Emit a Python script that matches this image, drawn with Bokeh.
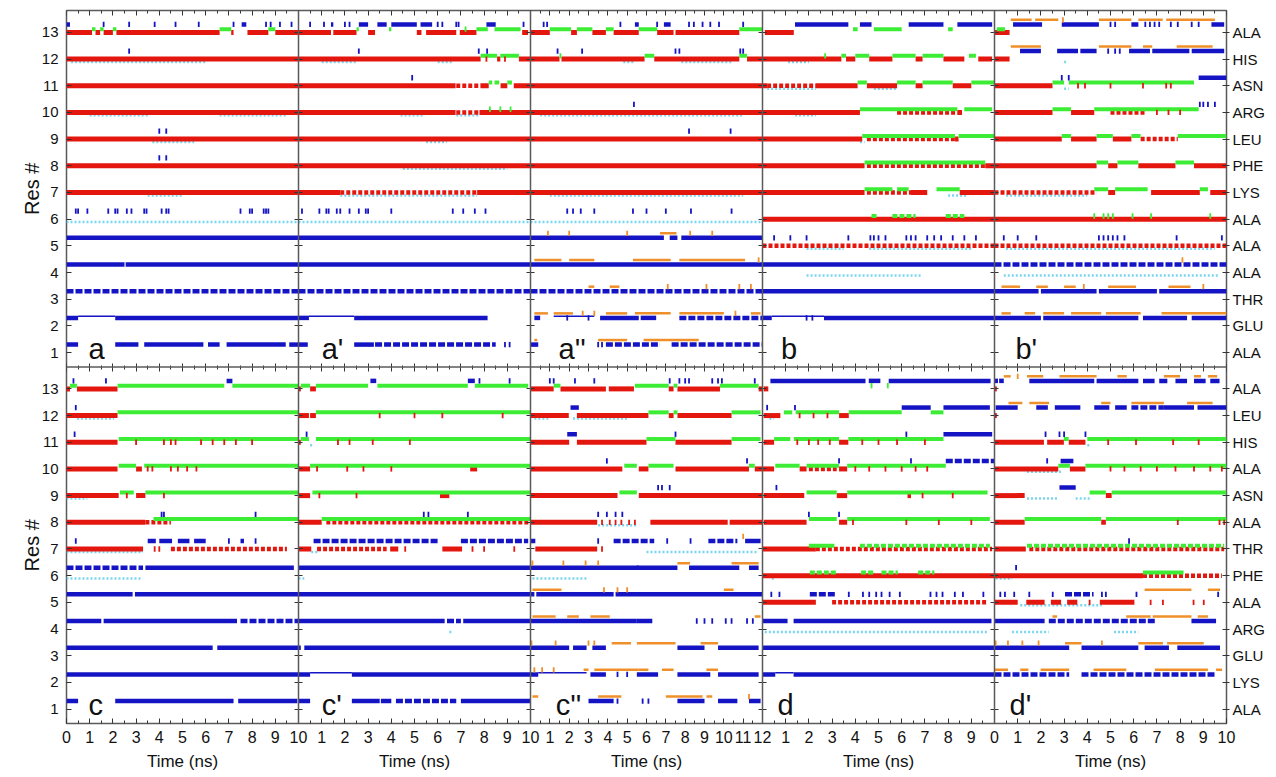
import math
from bokeh.plotting import figure
from bokeh.models import Range1d, LinearAxis, FixedTicker, ColumnDataSource, Label, Span
from bokeh.embed import file_html
from bokeh.resources import INLINE

FONT = "Liberation Sans"

# ---------------- labels / categories ----------------
RES_TICKS = list(range(1, 14))
TOP_NAMES = ["ALA", "GLU", "THR", "ALA", "ALA", "ALA", "LYS", "PHE", "LEU", "ARG", "ASN", "HIS", "ALA"]
BOT_NAMES = ["ALA", "LYS", "GLU", "ARG", "ALA", "PHE", "THR", "ALA", "ASN", "ALA", "HIS", "LEU", "ALA"]
TOP_PANELS = ["a", "a'", "a''", "b", "b'"]
BOT_PANELS = ["c", "c'", "c''", "d", "d'"]
PANEL_NS = [10, 10, 12, 10, 10]
TIME_LABEL = "Time (ns)"
RES_LABEL = "Res #"

# ---------------- data: (residue, start ns, end ns) / ticks (residue, ns) ----------------
# panel a
A_RED = [(13,0,1.1),(13,1.25,1.45),(13,1.6,2.0),(13,2.15,6.6),(13,7.1,7.2),(13,7.8,8.7),(13,9.0,10),
         (12,0,10),(11,0,10),(10,0,10),(9,0,10),(8,0,10),(7,0,10)]
A_GREEN = [(13,1.1,1.25),(13,1.45,1.6),(13,2.0,2.15),(13,6.6,7.1),(13,8.7,9.0)]
A_BLUE = [(13,0.0,0.15),(13,7.55,7.75),(5,0,10),(4,0,2.5),(4,2.55,10),(2,0,0.5),(2,2.1,10),
          (1,0,0.5),(1,2.1,3.1),(1,3.35,5.9),(1,6.1,6.6),(1,6.9,9.45),(1,9.6,10)]
A_BLUE_DASH = [(3,0,10)]
A_THIN = [(2,0.5,2.1)]
A_BLUE_TK = [(13,1.6),(13,2.7),(13,3.8),(13,4.7),(13,5.7),(13,7.2),(13,8.6),(13,8.8),(13,9.2),(13,9.7),
             (12,2.7),(9,4.0),(9,4.3),(8,4.0),(8,4.3),(6,0.4),(6,0.5),(6,0.9),(6,1.8),(6,2.1),(6,2.2),
             (6,2.6),(6,2.8),(6,3.35),(6,3.45),(6,4.1),(6,4.3),(6,4.4),(6,7.5),(6,7.9),(6,8.0),(6,8.5),
             (6,8.6),(6,8.7)]
A_CYAN = [(12,0.2,6.0),(10,1.0,3.5),(10,6.6,9.5),(9,3.7,5.5),(7,3.5,5.0),(6,0,10)]

# panel a'
AP_RED = [(13,0,1.4),(13,1.5,2.5),(13,3.0,3.3),(13,5.1,5.3),(13,5.5,6.8),(13,6.95,7.67),(13,9.64,9.9),
          (12,0,7.85),(12,8.56,8.7),(12,9.5,10),
          (11,0,6.77),(11,7.85,8.2),(11,8.71,9.0),(11,9.28,10),
          (10,0,6.77),(10,7.8,10),(9,0,10),(8,0,10),(7,0,1.8),(7,7.7,10)]
AP_RED_DOT = [(11,6.8,7.85),(10,6.8,7.8),(7,1.8,7.7)]
AP_RED_TK = [(12,8.1),(12,8.9)]
AP_GREEN = [(13,2.5,2.6),(13,3.9,4.0),(13,7.67,8.16),(13,8.45,9.57),(12,7.85,8.56),(12,8.7,9.5),
            (11,8.2,8.35),(11,8.45,8.65),(11,9.0,9.2)]
AP_GREEN_TK = [(13,7.2),(10,8.25),(10,8.7),(10,9.14)]
AP_BLUE = [(13,1.4,1.5),(13,2.6,3.0),(13,3.4,3.8),(13,4.0,5.1),(13,5.26,5.76),(13,8.1,8.5),
           (5,0,10),(4,0,10),(2,0,0.45),(2,2.4,8.15),(1,0,0.4),(1,2.4,3.25)]
AP_BLUE_DASH = [(3,0,10),(1,3.3,8.5)]
AP_THIN = [(2,0.45,2.4)]
AP_BLUE_TK = [(13,0.5),(13,1.1),(13,2.0),(13,2.2),(13,6.0),(13,6.2),(13,6.8),(13,6.9),(13,9.7),
              (12,2.6),(12,7.77),(12,8.13),(11,4.9),(6,0.15),(6,0.9),(6,1.2),(6,1.3),(6,1.65),(6,1.8),
              (6,2.2),(6,2.6),(6,2.9),(6,3.0),(6,4.0),(6,6.65),(6,7.1),(6,7.6),(6,8.06),(1,8.9),(1,9.1)]
AP_CYAN = [(12,1.0,2.5),(12,6.0,6.6),(10,4.4,5.4),(10,6.8,7.8),(9,5.5,6.4),(8,4.5,9.0),(7,1.8,7.7),(6,0,10)]

# panel a''
A2_RED = [(13,0,1.0),(13,2.1,2.4),(13,3.2,3.9),(13,4.3,5.6),(13,6.55,7.4),(13,7.5,10.8),
          (12,0,1.5),(12,1.6,5.9),(12,6.4,10.8),(12,11.2,12),
          (11,0,12),(10,0,12),(9,0,12),(8,0,12),(7,0,12)]
A2_GREEN = [(13,1.0,2.1),(13,2.4,3.2),(13,3.9,4.3),(13,5.6,6.55),(13,10.8,12),(12,5.9,6.4),(12,10.8,11.2)]
A2_GREEN_TK = [(12,1.55)]
A2_BLUE = [(13,5.4,5.6),(13,6.9,7.25),(5,0,6.9),(5,7.2,7.6),(5,7.8,12),(4,0,12),
           (2,0.2,0.5),(2,3.6,5.6),(2,5.7,6.5),(1,0,0.4)]
A2_BLUE_DASH = [(3,0,12),(2,7.7,12),(1,3.9,6.7),(1,7.3,12)]
A2_THIN = [(2,1.2,3.3)]
A2_BLUE_TK = [(13,0.68),(13,0.86),(13,4.65),(13,6.55),(13,8.2),(13,8.45),(13,8.9),(13,9.3),(13,9.75),
              (13,11.0),(12,1.4),(12,2.67),(12,7.5),(12,7.7),(12,10.85),(12,11.0),(10,5.35),(9,8.2),
              (9,10.35),(6,1.9),(6,2.2),(6,2.6),(6,3.3),(6,5.3),(6,6.0),(6,7.0),(6,8.3),(6,10.4),
              (2,1.9),(2,3.0),(1,3.5),(1,3.7)]
A2_ORANGE = [(5,6.7,7.55),(4,0.2,1.6),(4,2.0,3.3),(4,5.3,7.25),(4,7.7,11.1),(3,3.0,3.3),(3,4.1,4.6),
             (2,0.2,0.9),(2,1.2,2.2),(2,3.9,5.0),(2,5.4,7.25),(2,7.7,10.0),(2,11.4,11.9),
             (1,0.2,0.35),(1,3.5,5.0),(1,5.85,8.7)]
A2_ORANGE_TK = [(5,0.9),(5,2.0),(5,5.0),(5,8.26),(5,9.4),(4,11.8),(3,7.1),(3,9.1),(3,10.8),(3,11.4),
                (2,2.7),(2,3.3),(2,10.6)]
A2_CYAN = [(12,4.8,5.4),(12,7.8,10.4),(10,0.5,11),(7,1,11),(6,0,12)]

# panel b
B_RED = [(13,0.1,1.35),(12,0,3.4),(12,3.6,4.0),(12,4.6,5.6),(12,6.6,6.9),(12,7.8,8.7),(12,9.3,9.9),
         (11,0,0.2),(11,2.3,4.1),(11,4.5,5.8),(11,6.6,6.9),(11,8.2,9.0),
         (10,0,4.2),(10,8.4,8.6),(9,0,4.3),(9,8.3,8.45),(8,0,4.4),(8,9.6,10),
         (7,0,4.4),(7,6.4,7.1),(7,8.5,10),(6,0,10)]
B_RED_DOT = [(11,0.2,2.3),(10,5.8,8.4),(9,4.5,8.3),(8,4.5,9.6),(7,4.5,6.4),(5,0,10)]
B_GREEN = [(13,3.9,4.1),(13,4.8,6.0),(13,8.0,8.2),(12,3.4,3.6),(12,4.0,4.6),(12,5.6,6.6),(12,6.9,7.8),
           (12,8.9,9.2),(11,4.1,4.5),(11,5.8,6.6),(11,6.9,8.2),(11,9.0,10),(10,4.2,8.4),(10,8.7,9.9),
           (9,4.3,8.3),(9,8.45,10),(8,4.4,9.6),(7,4.4,5.6),(7,5.8,6.3),(7,7.5,8.5)]
B_GREEN_DOT = [(6,4.7,5.0),(6,5.6,6.6),(6,7.9,8.7)]
B_GREEN_TK = [(12,2.7)]
B_BLUE = [(13,1.4,3.7),(13,4.2,4.7),(13,6.3,7.8),(13,8.4,9.9),(4,0,10),(3,0,10),(2,0,0.4),(2,2.65,10)]
B_THIN = [(2,0.4,2.65)]
B_BLUE_TK = [(5,0.5),(5,1.2),(5,1.9),(5,3.7),(5,4.65),(5,4.8),(5,5.0),(5,5.3),(5,6.2),(5,6.4),(5,6.6),
             (5,7.1),(5,7.4),(5,7.7),(5,8.2),(5,8.7),(5,9.2),(2,1.9),(2,2.15)]
B_CYAN = [(12,1.1,2.0),(11,0.2,2.3),(11,4.8,5.8),(10,1.4,2.3),(9,4.2,4.4),(5,1.9,3.5),(5,4.6,9.0),
          (4,1.9,6.9),(7,8.0,8.8)]

# panel b'
BP_RED = [(13,0,0.65),(12,0,0.65),(11,0,2.5),(10,0,2.5),(10,3.3,4.3),(9,0,2.9),(9,3.3,4.4),(9,5.1,5.9),
          (8,0,4.4),(8,4.9,5.3),(8,6.2,7.8),(8,8.6,10),(7,4.9,5.2),(7,6.75,8.85),(7,9.3,10),(6,0,10)]
BP_RED_DOT = [(10,5.0,6.5),(9,6.3,7.9),(7,0,4.4),(5,0,10)]
BP_RED_TK = [(11,3.6),(11,3.9),(11,5.0),(11,6.4),(11,7.4),(11,7.6),(10,7.0),(10,7.5),(10,8.0)]
BP_GREEN = [(13,0.1,0.45),(11,2.5,3.0),(11,3.2,8.6),(10,2.5,3.3),(10,4.3,8.8),(9,2.9,3.3),(9,4.4,5.1),
            (9,5.9,6.3),(9,7.9,10),(8,4.4,4.9),(8,5.3,6.2),(8,7.8,8.6),(7,4.3,4.9),(7,5.2,6.6),(7,8.85,9.2)]
BP_GREEN_TK = [(6,4.3),(6,4.7),(6,4.9),(6,5.1),(6,5.95),(6,6.75),(6,9.3)]
BP_BLUE = [(13,0.8,2.05),(13,2.9,4.5),(13,5.9,6.2),(13,9.35,9.9),(12,1.1,2.0),(12,2.7,3.6),(12,3.7,4.4),
           (12,5.8,6.7),(12,6.8,8.4),(12,8.5,9.9),(11,8.8,10),(3,0,1.9),(3,2.0,4.4),(3,4.5,7.0),
           (3,7.1,10),(2,0,2.0),(2,2.1,6.2),(2,6.4,8.3),(2,8.5,10)]
BP_BLUE_DASH = [(4,0,10)]
BP_BLUE_TK = [(13,5.0),(13,5.2),(13,6.5),(13,6.7),(13,6.9),(13,7.1),(13,7.6),(13,7.9),(13,8.5),(13,8.8),
              (12,4.9),(12,5.2),(12,5.4),(11,2.9),(11,3.2),(10,8.85),(10,9.0),(10,9.2),(10,9.5),(5,0.4),
              (5,1.0),(5,1.8),(5,4.5),(5,4.7),(5,4.9),(5,5.1),(5,5.3),(5,5.6),(5,7.85),(5,9.8)]
BP_ORANGE = [(13,0.7,1.6),(13,1.75,2.75),(13,4.5,5.9),(13,6.2,7.25),(13,7.4,9.5),(12,0.7,2.0),
             (12,4.5,5.9),(12,6.4,6.8),(12,7.85,9.4),(3,0.3,1.1),(3,1.8,2.3),(3,3.0,3.5),(3,4.9,6.1),
             (3,7.5,8.45),(2,0.3,0.7),(2,1.3,1.75),(2,2.1,3.0),(2,3.3,4.6),(2,4.8,6.3),(2,7.2,10)]
BP_ORANGE_TK = [(13,2.95),(4,8.1),(3,3.85),(3,9.0)]
BP_CYAN = [(12,3.0,3.1),(11,3.0,3.2),(7,0.5,4.0),(5,0.5,9.5),(4,0.4,9.7)]

# panel c
C_RED = [(13,0,0.15),(13,0.45,2.2),(12,0,2.2),(11,0,2.2),(10,0,2.2),(10,3.0,3.25),(9,0,2.25),(9,3.0,3.4),
         (8,0,3.4),(7,0,3.3)]
C_RED_DOT = [(8,3.4,4.5),(7,4.5,9.5)]
C_RED_TK = [(11,3.0),(11,4.2),(11,4.5),(11,4.7),(11,5.8),(11,6.3),(11,6.8),(11,7.3),(11,8.0),(10,3.5),
            (10,3.7),(10,4.5),(10,4.8),(10,5.2),(10,5.6),(9,2.6),(9,4.2),(7,3.8),(7,4.0)]
C_GREEN = [(13,0.15,0.45),(13,2.2,6.8),(13,7.15,10),(12,2.2,10),(11,2.25,10),(10,2.25,3.0),(10,3.35,10),
           (9,2.3,2.9),(9,3.4,10),(8,3.75,10)]
C_BLUE = [(13,6.9,7.15),(7,3.5,3.85),(7,4.0,4.55),(7,4.8,5.3),(7,5.5,6.0),(7,7.5,7.65),(6,3.4,9.8),
          (5,0,2.85),(5,2.95,10),(4,0,1.5),(4,1.6,7.35),(3,0,6.3),(3,6.5,10),(2,0,10),
          (1,0,0.5),(1,2.1,7.2),(1,7.4,9.95)]
C_BLUE_DASH = [(4,7.5,10),(6,0,3.3)]
C_BLUE_TK = [(13,0.3),(13,1.7),(12,0.4),(11,0.35),(8,4.1),(8,4.2),(8,8.15),(7,0.4),(7,7.0),(7,8.15)]
C_CYAN = [(12,0.45,2.05),(9,0,0.9),(7,0,3.3),(6,0,3.2)]

# panel c'
CP_RED = [(13,0,0.1),(13,0.5,0.75),(12,0,0.45),(12,0.5,0.75),(11,0,0.1),(10,0,0.5),(10,7.4,7.7),
          (9,0,0.5),(9,6.1,6.5),(8,0,1.0),(7,0,0.55),(7,3.95,4.3),(7,6.2,7.05)]
CP_RED_DOT = [(8,1.2,10),(7,0.8,3.8)]
CP_RED_TK = [(12,3.5),(12,5.0),(12,6.2),(12,8.8),(11,1.7),(11,2.2),(11,3.2),(11,4.8),(10,0.8),(10,2.1),
             (10,2.8),(10,4.0),(9,0.9),(9,2.5),(7,4.6),(7,7.5),(7,8.0),(7,9.3)]
CP_GREEN = [(13,0.1,0.5),(13,0.75,3.0),(13,3.4,7.3),(13,7.6,9.9),(12,0.75,10),(11,0.1,0.45),(11,0.75,10),
            (10,0.5,10),(9,0.6,10),(8,1.0,10)]
CP_BLUE = [(13,3.1,3.35),(13,7.3,7.6),(6,0,10),(5,0,10),(4,0,6.3),(4,7.1,10),(3,0,0.1),(3,0.25,10),
           (2,0,0.5),(2,2.3,10),(1,0,0.5),(1,2.3,3.5),(1,3.55,4.0),(1,7.0,10)]
CP_BLUE_DASH = [(7,0.65,6.0),(7,7.0,9.9),(4,6.4,7.0),(1,4.2,6.8)]
CP_THIN = [(2,0.5,2.3)]
CP_BLUE_TK = [(13,7.8),(13,9.1),(11,0.35),(8,5.4),(8,5.6),(8,7.3)]
CP_CYAN = [(11,0.5,0.6),(7,0.55,0.9),(6,0,0.25),(4,6.5,6.6)]

# panel c''
C2_RED = [(13,0,1.2),(13,1.55,3.9),(13,4.05,5.35),(13,7.15,7.4),(13,7.6,9.8),(13,11.8,12),
          (12,0,1.98),(12,2.4,6.1),(12,7.15,7.4),(12,7.6,10.4),
          (11,0,2.0),(11,2.4,6.0),(11,7.5,10.4),
          (10,0,4.75),(10,5.6,6.1),(10,7.5,11.3),(10,11.6,12),
          (9,0,4.5),(9,5.6,12),(8,0,3.45),(8,6.2,10.2),(8,10.3,12),(7,0.25,3.45)]
C2_RED_TK = [(8,3.7),(8,4.1),(8,4.4),(8,4.7),(8,5.1),(8,5.4),(7,3.7)]
C2_GREEN = [(13,1.2,1.55),(13,5.4,7.15),(13,7.4,7.6),(13,9.8,11.8),(12,6.1,7.15),(12,7.4,7.6),(12,10.4,11.9),
            (11,6.0,7.5),(11,10.4,11.9),(10,4.85,5.5),(10,6.1,7.4),(10,11.3,11.6),(9,4.6,5.5)]
C2_BLUE = [(12,2.07,2.5),(11,1.9,2.4),(7,0,0.25),(7,11.1,11.9),(6,0,5.6),(6,5.5,7.6),(6,8.2,10.8),
           (6,11.3,11.8),(5,0,0.2),(5,0.3,4.3),(5,4.4,12),(4,0,5.5),(4,5.5,6.3),(3,0,2.0),(3,2.2,2.9),
           (3,3.2,3.9),(3,7.6,9.0),(3,9.7,11.8),(2,0,0.4),(2,3.1,3.9),(2,5.5,6.6),(2,7.6,9.3),(2,9.7,11.8),
           (1,3.0,4.3),(1,7.6,9.0),(1,9.7,10.7),(1,11.3,11.9)]
C2_BLUE_DASH = [(7,4.3,6.4),(7,9.2,10.7)]
C2_THIN = [(2,0.4,2.9)]
C2_BLUE_TK = [(13,1.0),(13,1.2),(13,2.3),(13,3.3),(13,7.2),(13,7.7),(13,8.0),(13,8.2),(13,9.4),(13,9.7),
              (13,9.9),(13,11.6),(11,7.5),(10,3.95),(10,11.2),(9,6.6),(9,6.8),(9,7.2),(8,3.5),(8,3.95),
              (8,4.4),(8,4.75),(7,3.5),(7,7.07),(7,8.28),(4,8.6),(4,9.0),(4,9.4),(4,10.1),(4,10.4),
              (4,11.2),(4,11.5),(2,4.5),(2,5.0),(1,4.5),(1,5.8),(1,6.1)]
C2_ORANGE = [(6,7.6,8.25),(6,10.4,11.8),(5,0.1,1.6),(5,10.0,10.5),(4,0.1,1.3),(4,1.9,2.5),(4,3.1,4.1),
             (4,11.6,11.9),(3,4.2,5.2),(3,5.5,7.5),(3,8.8,9.7),(2,2.75,3.0),(2,3.3,5.6),(2,5.6,6.1),
             (2,6.8,7.4),(2,9.1,9.7),(1,0.1,0.4),(1,3.5,4.7),(1,7.0,8.9),(1,9.1,9.4)]
C2_ORANGE_TK = [(7,11.0),(6,0.1),(6,1.7),(6,2.85),(6,3.5),(5,3.8),(5,4.5),(5,5.0),(3,0.05),(3,1.3),
                (3,3.0),(3,3.3),(2,0.2),(2,0.6),(2,1.2),(1,11.3)]
C2_CYAN = [(12,0.2,1.0),(12,2.2,5.0),(8,3.5,5.5),(7,6.0,11.8),(6,0.1,2.9)]

# panel d
D_RED = [(13,0.05,0.25),(12,0.05,0.77),(12,3.3,3.72),(11,0.05,0.5),(11,3.3,3.7),(10,0,0.5),(10,1.6,1.9),
         (10,3.3,3.65),(9,0.05,1.8),(9,3.2,3.65),(9,6.25,6.4),(8,0.05,1.9),(8,3.3,3.65),(7,0,2.3),(6,0,10),
         (5,0,2.3)]
D_RED_DOT = [(10,2.0,3.2),(7,2.3,9.9),(5,3.0,9.7)]
D_RED_TK = [(12,1.6),(12,2.2),(12,2.8),(11,1.5),(11,2.0),(11,2.4),(11,2.9),(11,4.3),(11,5.0),(11,5.8),
            (11,7.0),(10,4.0),(10,4.6),(10,5.3),(10,6.0),(10,6.6),(10,7.1),(9,6.9),(9,8.2),(8,3.9),
            (8,6.2),(8,7.6),(8,9.0)]
D_GREEN = [(12,0.92,1.28),(12,1.43,3.3),(12,3.72,6.0),(12,7.25,7.8),(11,0.5,1.2),(11,1.35,3.3),(11,3.7,7.8),
           (10,0.55,1.6),(10,1.9,3.3),(10,3.65,7.9),(9,1.9,3.2),(9,3.65,9.7),(8,2.0,3.2),(8,3.65,9.8),
           (7,2.0,3.1)]
D_GREEN_DOT = [(7,4.2,9.8),(6,2.04,3.19),(6,4.25,4.77),(6,5.13,5.83),(6,6.71,7.41)]
D_GREEN_TK = [(13,4.7),(13,5.4)]
D_BLUE = [(13,0.34,4.44),(13,4.58,5.08),(13,5.44,9.83),(12,6.0,7.25),(12,7.8,9.8),(11,7.8,9.9),
          (4,0,1.08),(4,1.34,9.87),(3,0,10),(2,0,0.55),(2,1.34,10)]
D_BLUE_DASH = [(10,7.9,10),(5,2.04,3.19)]
D_THIN = [(2,0.55,1.34)]
D_BLUE_TK = [(12,0.2),(12,1.4),(11,6.2),(10,3.3),(10,6.4),(9,0.6),(8,2.0),(8,3.3),(5,0.38),(5,0.73),
             (5,3.72),(5,4.33),(5,4.6),(5,4.9),(5,5.13),(5,5.48),(5,5.92),(5,7.24),(5,7.5),(5,7.76),
             (5,8.29),(5,8.64),(5,9.52)]
D_CYAN = [(12,0.3,0.5),(6,0.4,0.5),(4,0.1,9.7)]

# panel d'
DP_RED = [(13,0,0.1),(12,0,0.1),(11,0,2.13),(11,2.27,2.99),(11,3.2,3.92),(10,0,2.75),(10,3.25,3.92),
          (9,0,1.3),(9,4.8,5.05),(8,0,1.3),(8,4.6,4.8),(7,0,1.35),(6,0,6.4),
          (5,0,1.0),(5,1.37,2.16),(5,2.43,2.87),(5,3.13,3.57),(5,4.54,6.03)]
DP_RED_DOT = [(7,1.5,9.9),(6,6.4,9.8)]
DP_RED_TK = [(11,4.9),(11,6.1),(11,7.7),(11,8.8),(10,5.0),(10,5.6),(10,6.3),(10,7.0),(10,7.8),(10,8.6),
             (10,9.3),(10,9.8),(8,7.9),(8,9.7),(8,9.9),(5,4.1),(5,6.73),(5,7.26),(5,8.58),(5,9.02)]
DP_GREEN = [(11,2.99,3.2),(11,4.0,10),(10,2.75,3.25),(10,3.92,10),(9,4.1,4.8),(9,5.05,10),(8,1.3,4.6),
            (8,4.8,10),(6,6.4,8.15)]
DP_GREEN_DOT = [(7,1.4,9.9)]
DP_BLUE = [(13,0,0.15),(13,0.2,0.4),(13,1.5,4.3),(13,4.4,6.2),(13,6.4,6.9),(13,7.1,7.45),(13,7.8,8.3),
           (13,8.6,9.1),(13,9.3,9.7),(12,0.05,1.0),(12,1.8,2.3),(12,2.6,3.7),(12,4.3,4.95),(12,5.2,5.7),
           (12,7.3,8.6),(12,8.75,10),(10,2.85,3.4),(9,2.8,3.5),(4,0,2.16),(4,8.49,9.55),
           (3,0,3.22),(3,3.75,6.2),(3,6.47,7.52),(3,7.88,9.72)]
DP_BLUE_DASH = [(12,5.9,7.3),(5,3.04,4.27),(4,2.34,6.91),(2,0,3.22),(2,3.75,9.55)]
DP_BLUE_TK = [(11,2.2),(11,2.8),(11,3.0),(11,3.92),(10,2.27),(7,5.8),(6,0.93),(5,0.25),(5,0.45),(5,0.85),
              (5,1.5),(5,2.51),(5,4.63),(5,4.8),(5,6.12),(5,9.64)]
DP_ORANGE = [(13,0.4,0.7),(13,1.4,2.1),(13,2.8,4.4),(13,5.3,5.7),(13,7.3,8.0),(13,8.6,8.9),(13,9.2,9.6),
             (12,0.6,1.2),(12,1.5,2.35),(12,4.6,5.0),(12,5.9,7.3),(12,8.3,9.4),(5,6.47,8.49),(5,9.2,9.72),
             (4,2.5,2.7),(4,5.68,6.73),(4,6.82,8.49),(4,8.76,9.2),(3,3.04,3.75),(3,6.2,7.26),(3,7.44,9.02),
             (2,0,0.58),(2,1.11,1.46),(2,1.99,3.22),(2,4.27,5.68),(2,6.91,9.2),(2,9.55,9.81)]
DP_ORANGE_TK = [(13,1.0),(3,0.05),(3,0.58),(3,1.2),(3,1.9),(3,4.63)]
DP_CYAN = [(11,4.0,4.1),(10,1.4,2.9),(9,1.4,2.7),(9,3.5,4.1),(6,0.05,0.76),(5,1.11,4.63),(4,0.76,2.34),
           (4,5.15,6.2)]


def panel_data(red=(), red_dot=(), green=(), green_dot=(), blue=(), blue_dash=(), thin=(), cyan=(),
               orange=(), blue_tk=(), red_tk=(), green_tk=(), orange_tk=()):
    return dict(red=red, red_dot=red_dot, green=green, green_dot=green_dot, blue=blue, blue_dash=blue_dash,
                thin=thin, cyan=cyan, orange=orange, blue_tk=blue_tk, red_tk=red_tk, green_tk=green_tk,
                orange_tk=orange_tk)


PANELS = {
    ("top", 0): panel_data(red=A_RED, green=A_GREEN, blue=A_BLUE, blue_dash=A_BLUE_DASH, thin=A_THIN,
                           cyan=A_CYAN, blue_tk=A_BLUE_TK),
    ("top", 1): panel_data(red=AP_RED, red_dot=AP_RED_DOT, green=AP_GREEN, blue=AP_BLUE, blue_dash=AP_BLUE_DASH,
                           thin=AP_THIN, cyan=AP_CYAN, blue_tk=AP_BLUE_TK, red_tk=AP_RED_TK, green_tk=AP_GREEN_TK),
    ("top", 2): panel_data(red=A2_RED, green=A2_GREEN, blue=A2_BLUE, blue_dash=A2_BLUE_DASH, thin=A2_THIN,
                           cyan=A2_CYAN, orange=A2_ORANGE, blue_tk=A2_BLUE_TK, green_tk=A2_GREEN_TK,
                           orange_tk=A2_ORANGE_TK),
    ("top", 3): panel_data(red=B_RED, red_dot=B_RED_DOT, green=B_GREEN, green_dot=B_GREEN_DOT, blue=B_BLUE,
                           thin=B_THIN, cyan=B_CYAN, blue_tk=B_BLUE_TK, green_tk=B_GREEN_TK),
    ("top", 4): panel_data(red=BP_RED, red_dot=BP_RED_DOT, green=BP_GREEN, blue=BP_BLUE, blue_dash=BP_BLUE_DASH,
                           cyan=BP_CYAN, orange=BP_ORANGE, blue_tk=BP_BLUE_TK, red_tk=BP_RED_TK,
                           green_tk=BP_GREEN_TK, orange_tk=BP_ORANGE_TK),
    ("bot", 0): panel_data(red=C_RED, red_dot=C_RED_DOT, green=C_GREEN, blue=C_BLUE, blue_dash=C_BLUE_DASH,
                           cyan=C_CYAN, blue_tk=C_BLUE_TK, red_tk=C_RED_TK),
    ("bot", 1): panel_data(red=CP_RED, red_dot=CP_RED_DOT, green=CP_GREEN, blue=CP_BLUE, blue_dash=CP_BLUE_DASH,
                           thin=CP_THIN, cyan=CP_CYAN, blue_tk=CP_BLUE_TK, red_tk=CP_RED_TK),
    ("bot", 2): panel_data(red=C2_RED, green=C2_GREEN, blue=C2_BLUE, blue_dash=C2_BLUE_DASH, thin=C2_THIN,
                           cyan=C2_CYAN, orange=C2_ORANGE, blue_tk=C2_BLUE_TK, red_tk=C2_RED_TK,
                           orange_tk=C2_ORANGE_TK),
    ("bot", 3): panel_data(red=D_RED, red_dot=D_RED_DOT, green=D_GREEN, green_dot=D_GREEN_DOT, blue=D_BLUE,
                           blue_dash=D_BLUE_DASH, thin=D_THIN, cyan=D_CYAN, blue_tk=D_BLUE_TK,
                           red_tk=D_RED_TK, green_tk=D_GREEN_TK),
    ("bot", 4): panel_data(red=DP_RED, red_dot=DP_RED_DOT, green=DP_GREEN, green_dot=DP_GREEN_DOT, blue=DP_BLUE,
                           blue_dash=DP_BLUE_DASH, cyan=DP_CYAN, orange=DP_ORANGE, blue_tk=DP_BLUE_TK,
                           red_tk=DP_RED_TK, orange_tk=DP_ORANGE_TK),
}

# ---------------- styles ----------------
RED, GREEN, BLUE, CYAN, ORANGE = "#e4170f", "#3ded35", "#1414c4", "#7ad6ee", "#f0902a"
SEG_STYLES = [  # key, y offset, colour, width, dash
    ("cyan", -0.11, CYAN, 2.5, "2 2"),
    ("red_dot", 0.0, RED, 4.5, "4 2"),
    ("red", 0.0, RED, 5, "solid"),
    ("green_dot", 0.12, GREEN, 4, "5 2"),
    ("green", 0.12, GREEN, 4, "solid"),
    ("thin", 0.36, BLUE, 1.5, "solid"),
    ("blue_dash", 0.3, BLUE, 4.5, "7 2"),
    ("blue", 0.3, BLUE, 4.5, "solid"),
    ("orange", 0.47, ORANGE, 2.5, "solid"),
]
TICK_STYLES = [("red_tk", 0.0, RED), ("green_tk", 0.12, GREEN), ("blue_tk", 0.3, BLUE), ("orange_tk", 0.47, ORANGE)]

YLO, YHI = 0.46, 13.82
YSPAN = YHI - YLO

p = figure(width=1276, height=776, x_range=Range1d(0, 50), y_range=Range1d(0, 2),
           x_axis_type=None, y_axis_type=None, output_backend="svg", toolbar_location=None,
           min_border_left=66, min_border_right=50, min_border_top=10, min_border_bottom=53)
p.outline_line_color = "#5a5a5a"
p.outline_line_width = 1.5
p.background_fill_color = "white"
p.border_fill_color = "white"

p.extra_y_ranges = {"top": Range1d(YLO - YSPAN, YHI), "bot": Range1d(YLO, YHI + YSPAN)}
p.extra_x_ranges = {f"p{k}": Range1d(-k * w, (5 - k) * w) for k, w in enumerate(PANEL_NS)}

# ---------------- glyphs ----------------
for (row, k), data in PANELS.items():
    xr = f"p{k}"
    for key, off, col, lw, dash in SEG_STYLES:
        rows = data[key]
        if not rows:
            continue
        src = ColumnDataSource(dict(x0=[s for r, s, e in rows], x1=[e for r, s, e in rows],
                                    y=[r + off for r, s, e in rows]))
        p.segment(x0="x0", y0="y", x1="x1", y1="y", source=src, x_range_name=xr, y_range_name=row,
                  line_color=col, line_width=lw, line_dash=dash, line_cap="butt")
    for key, off, col in TICK_STYLES:
        pts = data[key]
        if not pts:
            continue
        src = ColumnDataSource(dict(x=[t for r, t in pts], y0=[r + off - 0.1 for r, t in pts],
                                    y1=[r + off + 0.1 for r, t in pts]))
        p.segment(x0="x", y0="y0", x1="x", y1="y1", source=src, x_range_name=xr, y_range_name=row,
                  line_color=col, line_width=1.8, line_cap="butt")

# ---------------- dividers ----------------
for k in range(1, 5):
    p.add_layout(Span(location=10 * k, dimension="height", line_color="#5a5a5a", line_width=1.5))
p.add_layout(Span(location=1, dimension="width", line_color="#5a5a5a", line_width=1.5))

# ---------------- axes ----------------
TICK_COL = "#333333"
TEXT_COL = "#111111"


def make_axis(xr, yr, loc, ticks, minor=(), tin=0, tout=0, mtin=0, mtout=0, show=False,
              overrides=None, size="15px", standoff=6):
    ax = LinearAxis(x_range_name=xr, y_range_name=yr, fixed_location=loc,
                    ticker=FixedTicker(ticks=list(ticks), minor_ticks=list(minor)),
                    axis_line_color=None, major_tick_in=tin, major_tick_out=tout,
                    minor_tick_in=mtin, minor_tick_out=mtout,
                    major_tick_line_color=TICK_COL, minor_tick_line_color=TICK_COL,
                    major_label_standoff=standoff)
    if show:
        ax.major_label_text_font = FONT
        ax.major_label_text_font_size = size
        ax.major_label_text_color = TEXT_COL
        if overrides:
            ax.major_label_overrides = overrides
    else:
        ax.major_label_text_color = None
        ax.major_label_text_font_size = "0px"
    return ax


# inner (frame-clipped) tick rows: top edge and row divider, one per panel time range
for k, w in enumerate(PANEL_NS):
    xr = f"p{k}"
    majors = list(range(0, w + 1))
    minors = [i + 0.5 for i in range(w)]
    p.add_layout(make_axis(xr, "bot", YHI, majors, minors, tin=4, tout=4, mtin=2, mtout=2), "below")
    p.add_layout(make_axis(xr, "top", YHI, majors, minors, tin=5, mtin=3), "above")

# panel boundaries inside each row
for row in ("top", "bot"):
    for k in range(1, 5):
        p.add_layout(make_axis("default", row, 10 * k, RES_TICKS, tin=4, tout=4), "left")

# labelled bottom axis: per-panel time ticks placed on the shared frame
bottom_labels, bottom_minor = {}, []
for k, w in enumerate(PANEL_NS):
    for i in range(w + 1):
        if i == 0 and k in (1, 2, 3):
            continue
        if i == w and k == 3:
            continue
        bottom_labels[10 * k + i * 10 / w] = str(i)
    bottom_minor += [10 * k + (i + 0.5) * 10 / w for i in range(w)]
bx = make_axis("default", "default", None, sorted(bottom_labels), bottom_minor, tin=5, mtin=3, show=True,
               overrides=bottom_labels, size="16px", standoff=7)
p.add_layout(bx, "below")
tx = make_axis("default", "default", None, [5 + 10 * k for k in range(5)], show=True,
               overrides={5 + 10 * k: TIME_LABEL for k in range(5)}, size="17px", standoff=6)
p.add_layout(tx, "below")

# labelled left / right axes (residue numbers and names for both rows)
left_labels, right_labels = {}, {}
for base, names in ((1.0, TOP_NAMES), (0.0, BOT_NAMES)):
    for r in RES_TICKS:
        pos = base + (r - YLO) / YSPAN
        left_labels[pos] = str(r)
        right_labels[pos] = names[r - 1]
lx = make_axis("default", "default", None, sorted(left_labels), tin=5, show=True, overrides=left_labels,
               size="15px", standoff=8)
p.add_layout(lx, "left")
rl = make_axis("default", "default", None, [0.5, 1.5], show=True, overrides={0.5: RES_LABEL, 1.5: RES_LABEL},
               size="20px", standoff=-4)
rl.major_label_orientation = "vertical"
p.add_layout(rl, "left")
rx = make_axis("default", "default", None, sorted(right_labels), tin=4, tout=3, show=True,
               overrides=right_labels, size="15px", standoff=3)
p.add_layout(rx, "right")

# ---------------- panel letters ----------------
TOP_LETTER_X = [0.95, 1.0, 1.45, 0.8, 0.9]
BOT_LETTER_X = [0.95, 1.0, 1.3, 0.65, 0.65]
for row, letters, xs in (("top", TOP_PANELS, TOP_LETTER_X), ("bot", BOT_PANELS, BOT_LETTER_X)):
    for k, (txt, xpos) in enumerate(zip(letters, xs)):
        p.add_layout(Label(x=xpos, y=1.15, x_range_name=f"p{k}", y_range_name=row, text=txt,
                           text_align="left", text_baseline="alphabetic", text_font=FONT,
                           text_font_size="29px", text_color=TEXT_COL))

open("out.html", "w").write(file_html(p, INLINE))
